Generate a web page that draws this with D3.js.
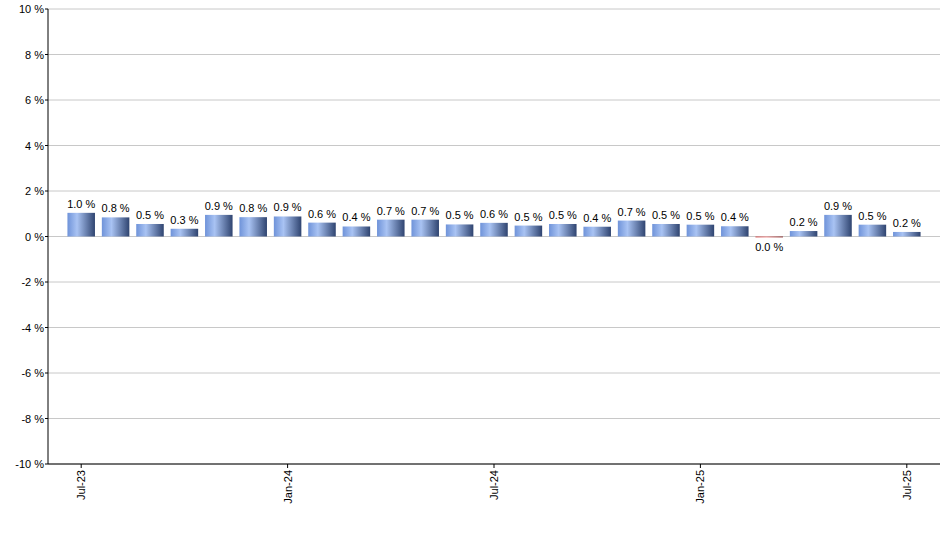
<!DOCTYPE html><html><head><meta charset="utf-8"><script src="https://cdn.jsdelivr.net/npm/d3@7"></script>
<style>body{margin:0;background:#fff}text{font-family:Arial,"Liberation Sans",sans-serif;font-size:11px}</style></head><body><svg id="c" width="940" height="550"></svg><script>
const months=["Jul-23","Aug-23","Sep-23","Oct-23","Nov-23","Dec-23","Jan-24","Feb-24","Mar-24","Apr-24","May-24","Jun-24","Jul-24","Aug-24","Sep-24","Oct-24","Nov-24","Dec-24","Jan-25","Feb-25","Mar-25","Apr-25","May-25","Jun-25","Jul-25"];
const values=[1.04,0.84,0.55,0.34,0.95,0.85,0.88,0.61,0.44,0.74,0.74,0.53,0.6,0.48,0.55,0.43,0.7,0.55,0.52,0.45,-0.04,0.24,0.95,0.52,0.2];
const labels=["1.0","0.8","0.5","0.3","0.9","0.8","0.9","0.6","0.4","0.7","0.7","0.5","0.6","0.5","0.5","0.4","0.7","0.5","0.5","0.4","0.0","0.2","0.9","0.5","0.2"];
const yTicks=[-10,-8,-6,-4,-2,0,2,4,6,8,10];
const xTicks=["Jul-23","Jan-24","Jul-24","Jan-25","Jul-25"];
const svg=d3.select("#c");
const L=48,R=940,T=9,B=464;
const y=d3.scaleLinear().domain([-10,10]).range([B,T]);
const x=d3.scaleBand().domain(months).range([64,924]).paddingInner(0.2).paddingOuter(0.1);
const defs=svg.append("defs");
const g1=defs.append("linearGradient").attr("id","gb");
[["0%","#6f93d9"],["35%","#a9c3f3"],["100%","#2f4470"]].forEach(s=>g1.append("stop").attr("offset",s[0]).attr("stop-color",s[1]));
const g2=defs.append("linearGradient").attr("id","gr");
[["0%","#d04040"],["40%","#f08080"],["100%","#802020"]].forEach(s=>g2.append("stop").attr("offset",s[0]).attr("stop-color",s[1]));
svg.append("g").selectAll("line").data(yTicks).join("line").attr("x1",L).attr("x2",R).attr("y1",d=>y(d)).attr("y2",d=>y(d)).attr("stroke","#c8c8c8");
svg.append("g").selectAll("text").data(yTicks).join("text").attr("x",L-4).attr("y",d=>y(d)+4).attr("text-anchor","end").text(d=>d+" %");
svg.append("g").selectAll("line").data(yTicks).join("line").attr("x1",L-3).attr("x2",L).attr("y1",d=>y(d)).attr("y2",d=>y(d)).attr("stroke","#000");
svg.append("g").selectAll("rect").data(values).join("rect").attr("x",(d,i)=>x(months[i])).attr("width",x.bandwidth())
 .attr("y",d=>y(Math.max(0,d))).attr("height",d=>Math.abs(y(d)-y(0))).attr("fill",d=>d<0?"url(#gr)":"url(#gb)");
svg.append("g").selectAll("text").data(values).join("text").attr("x",(d,i)=>x(months[i])+x.bandwidth()/2)
 .attr("y",d=>d<0?y(d)+14:y(d)-5).attr("text-anchor","middle").text((d,i)=>labels[i]+" %");
svg.append("line").attr("x1",L).attr("x2",L).attr("y1",T).attr("y2",B).attr("stroke","#000");
svg.append("line").attr("x1",L).attr("x2",R).attr("y1",B).attr("y2",B).attr("stroke","#000");
const xt=svg.append("g").selectAll("g").data(xTicks).join("g").attr("transform",d=>`translate(${x(d)+x.bandwidth()/2},${B})`);
xt.append("line").attr("y2",4).attr("stroke","#000");
xt.append("text").attr("transform","rotate(-90)").attr("x",-6).attr("y",4).attr("text-anchor","end").text(d=>d);
</script></body></html>
